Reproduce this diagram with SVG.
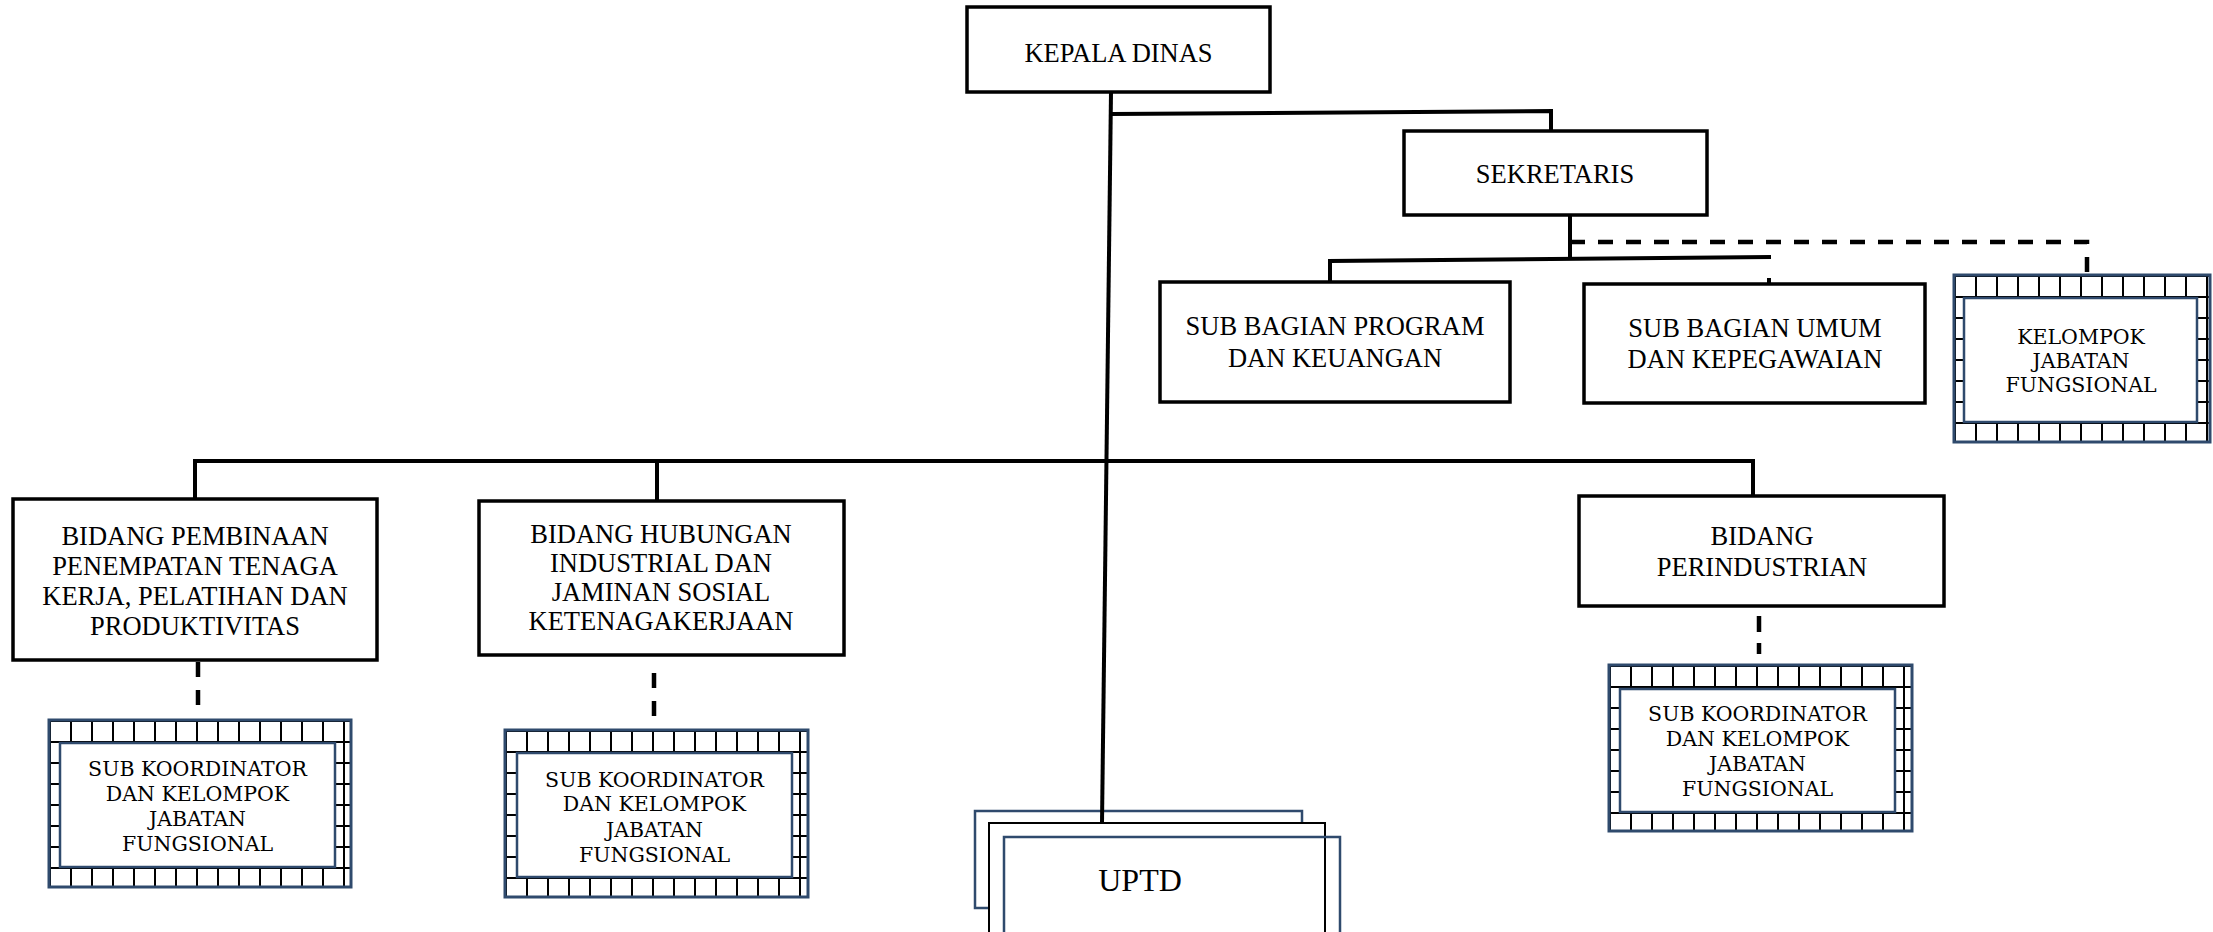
<svg xmlns="http://www.w3.org/2000/svg" width="2213" height="932" viewBox="0 0 2213 932">
<style>
.box{fill:#ffffff;stroke:#000000;stroke-width:3.5}
.t{font-family:"Liberation Serif","Times New Roman",serif;font-size:26.5px;fill:#000;text-anchor:middle}
.s{font-family:"DejaVu Serif","Liberation Serif",serif;font-size:20.5px;fill:#000;text-anchor:middle}
.outer{fill:url(#grid);stroke:#2F4A6D;stroke-width:3}
.inner{fill:#ffffff;stroke:#2F4A6D;stroke-width:2.5}
.con{fill:none;stroke:#000;stroke-width:4}
.dash{fill:none;stroke:#000;stroke-width:4.5;stroke-dasharray:15 13}
.ub{fill:#fff;stroke:#2F4A6D;stroke-width:2.5}
</style>
<defs>
<pattern id="grid" patternUnits="userSpaceOnUse" x="0" y="0" width="21" height="21">
<rect x="0" y="0" width="21" height="21" fill="#ffffff"/>
<path d="M1 0V21M0 1H21" stroke="#000" stroke-width="2" fill="none"/>
</pattern>
</defs>
<rect width="2213" height="932" fill="#ffffff"/>

<g id="kepala-dinas">
<rect class="box" x="967" y="7" width="303" height="85"/>
<text class="t" x="1118.5" y="62">KEPALA DINAS</text>
</g>
<g id="sekretaris">
<rect class="box" x="1404" y="131" width="303" height="84"/>
<text class="t" x="1555" y="183">SEKRETARIS</text>
</g>
<g id="sub-bagian-program">
<rect class="box" x="1160" y="282" width="350" height="120"/>
<text class="t" x="1335" y="335">SUB BAGIAN PROGRAM</text>
<text class="t" x="1335" y="367">DAN KEUANGAN</text>
</g>
<g id="sub-bagian-umum">
<rect class="box" x="1584" y="284" width="341" height="119"/>
<text class="t" x="1755" y="337">SUB BAGIAN UMUM</text>
<text class="t" x="1755" y="368">DAN KEPEGAWAIAN</text>
</g>
<g id="kelompok-jabatan-fungsional" transform="translate(1954,275)">
<rect class="outer" x="0" y="0" width="256" height="167"/>
<rect class="inner" x="10" y="23" width="233" height="124"/>
<text class="s" x="127" y="69">KELOMPOK</text>
<text class="s" x="127" y="93">JABATAN</text>
<text class="s" x="127" y="117">FUNGSIONAL</text>
</g>
<g id="bidang-pembinaan">
<rect class="box" x="13" y="499" width="364" height="161"/>
<text class="t" x="195" y="545">BIDANG PEMBINAAN</text>
<text class="t" x="195" y="575">PENEMPATAN TENAGA</text>
<text class="t" x="195" y="605">KERJA, PELATIHAN DAN</text>
<text class="t" x="195" y="635">PRODUKTIVITAS</text>
</g>
<g id="bidang-hubungan">
<rect class="box" x="479" y="501" width="365" height="154"/>
<text class="t" x="661" y="543">BIDANG HUBUNGAN</text>
<text class="t" x="661" y="572">INDUSTRIAL DAN</text>
<text class="t" x="661" y="601">JAMINAN SOSIAL</text>
<text class="t" x="661" y="630">KETENAGAKERJAAN</text>
</g>
<g id="bidang-perindustrian">
<rect class="box" x="1579" y="496" width="365" height="110"/>
<text class="t" x="1762" y="545">BIDANG</text>
<text class="t" x="1762" y="576">PERINDUSTRIAN</text>
</g>
<g id="sub-koordinator-1" transform="translate(49,720)">
<rect class="outer" x="0" y="0" width="302" height="167"/>
<rect class="inner" x="11" y="23" width="275" height="124"/>
<text class="s" x="148.5" y="56">SUB KOORDINATOR</text>
<text class="s" x="148.5" y="81">DAN KELOMPOK</text>
<text class="s" x="148.5" y="106">JABATAN</text>
<text class="s" x="148.5" y="131">FUNGSIONAL</text>
</g>
<g id="sub-koordinator-2" transform="translate(505,730)">
<rect class="outer" x="0" y="0" width="303" height="167"/>
<rect class="inner" x="12" y="23" width="275" height="124"/>
<text class="s" x="149.5" y="57">SUB KOORDINATOR</text>
<text class="s" x="149.5" y="81">DAN KELOMPOK</text>
<text class="s" x="149.5" y="107">JABATAN</text>
<text class="s" x="149.5" y="132">FUNGSIONAL</text>
</g>
<g id="sub-koordinator-3" transform="translate(1609,665)">
<rect class="outer" x="0" y="0" width="303" height="166"/>
<rect class="inner" x="11" y="24" width="275" height="123"/>
<text class="s" x="148.5" y="56">SUB KOORDINATOR</text>
<text class="s" x="148.5" y="81">DAN KELOMPOK</text>
<text class="s" x="148.5" y="106">JABATAN</text>
<text class="s" x="148.5" y="131">FUNGSIONAL</text>
</g>
<g id="uptd">
<rect class="ub" x="975" y="811" width="327" height="97"/>
<rect x="989" y="823" width="336" height="130" fill="#fff" stroke="#000" stroke-width="2"/>
<rect x="1004" y="837" width="336" height="120" fill="none" stroke="#2F4A6D" stroke-width="2.5"/>
<text x="1140" y="891" font-family="Liberation Serif, Times New Roman, serif" font-size="32" text-anchor="middle" fill="#000">UPTD</text>
</g>

<g id="connectors">
<path class="con" d="M1111 92 L1102 823"/>
<path class="con" d="M1111 114 L1551 111 L1551 131"/>
<path class="con" d="M1570 215 V259"/>
<path class="con" d="M1330 282 V261 L1771 257"/>
<path class="con" d="M1769 278 V284"/>
<path class="dash" d="M1570 242 H2087 V276"/>
<path class="con" d="M195 499 V461 H1753 V496"/>
<path class="con" d="M657 461 V501"/>
<path class="dash" d="M198 662 V706"/>
<path class="dash" d="M654 673 V716"/>
<path class="dash" d="M1759 616 V654" style="stroke-dasharray:16 11"/>
</g>
</svg>
